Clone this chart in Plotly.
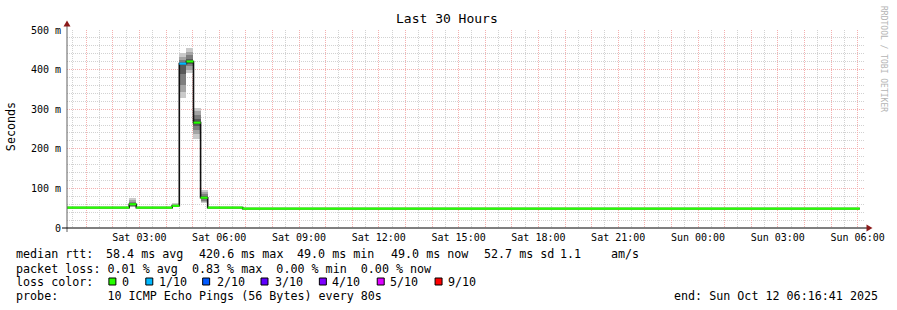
import plotly.graph_objects as go
import pandas as pd

# ------------------------------------------------------------------ data
seg_start = ["2025-10-11 00:16:41", "2025-10-11 02:37", "2025-10-11 02:53",
             "2025-10-11 04:14", "2025-10-11 04:30", "2025-10-11 04:46",
             "2025-10-11 05:02", "2025-10-11 05:18", "2025-10-11 05:34",
             "2025-10-11 06:53"]
seg_end = seg_start[1:] + ["2025-10-12 06:05"]
median_ms = [51.5, 60.0, 51.5, 56.0, 415.0, 420.5, 266.0, 76.5, 51.5, 49.0]
loss_count = [0, 0, 0, 0, 1, 0, 0, 0, 0, 0]

smoke_start = ["2025-10-11 02:37", "2025-10-11 04:14", "2025-10-11 04:30",
               "2025-10-11 04:46", "2025-10-11 05:02", "2025-10-11 05:18"]
smoke_pings = [
    [52, 54, 56, 58, 59, 61, 63, 66, 71, 76],
    [53, 54, 55, 55.5, 56, 56.5, 57, 58, 60, 62],
    [328, 343, 362, 390, 404, 414, 424, 433, 441],
    [391, 400, 408, 415, 419, 421, 428, 436, 445, 455],
    [225, 238, 248, 257, 264, 268, 276, 285, 295, 303],
    [63, 66, 69, 72, 75, 78, 81, 85, 90, 96],
]
step_minutes = 16

loss_labels = ["0", "1/10", "2/10", "3/10", "4/10", "5/10", "9/10"]
loss_levels = [0, 1, 2, 3, 4, 5, 9]
loss_colors = ["#26ff00", "#00b8ff", "#0059ff", "#5e00ff", "#7e00ff", "#dd00ff", "#ff0000"]

tick_labels = {
    "2025-10-11 03:00": "Sat 03:00", "2025-10-11 06:00": "Sat 06:00",
    "2025-10-11 09:00": "Sat 09:00", "2025-10-11 12:00": "Sat 12:00",
    "2025-10-11 15:00": "Sat 15:00", "2025-10-11 18:00": "Sat 18:00",
    "2025-10-11 21:00": "Sat 21:00", "2025-10-12 00:00": "Sun 00:00",
    "2025-10-12 03:00": "Sun 03:00", "2025-10-12 06:00": "Sun 06:00",
}
y_tickvals = [0, 100, 200, 300, 400, 500]
y_ticktext = ["0", "100 m", "200 m", "300 m", "400 m", "500 m"]

stats_rtt = [("median rtt:", 16), ("58.4 ms avg", 107), ("420.6 ms max", 199.5),
             ("49.0 ms min", 298), ("49.0 ms now", 392.5), ("52.7 ms sd", 486),
             ("1.1", 562), ("am/s", 612.5)]
stats_loss = "packet loss: 0.01 % avg  0.83 % max  0.00 % min  0.00 % now"
probe_text = "probe:       10 ICMP Echo Pings (56 Bytes) every 80s"
end_text = "end: Sun Oct 12 06:16:41 2025"

t_begin = "2025-10-11 00:16:41"
t_end = "2025-10-12 06:16:41"

# ------------------------------------------------------------------ geometry helpers
L, R, T, B = 67, 30, 30, 82
W, H = 897, 310
PW, PH = W - L - R, H - T - B


def px(x):
    return (x - L) / PW


def py(y):
    return (H - B - y) / PH


MONO = "DejaVu Sans Mono"
fig = go.Figure()

# ------------------------------------------------------------------ smoke
shades = ["#cacaca", "#a4a4a4", "#7e7e7e", "#585858", "#323232"]
step_ms = step_minutes * 60 * 1000
for band in range(5):
    xs, bases, hs = [], [], []
    for st, p in zip(smoke_start, smoke_pings):
        n = len(p)
        if band < n // 2:
            xs.append(pd.Timestamp(st) + pd.Timedelta(minutes=step_minutes / 2))
            bases.append(p[band])
            hs.append(p[n - 1 - band] - p[band])
    fig.add_trace(go.Bar(x=xs, y=hs, base=bases, width=[step_ms] * len(xs),
                         marker=dict(color=shades[band], line=dict(width=0)),
                         hoverinfo="skip"))

# ------------------------------------------------------------------ median line (black step)
lx, ly = [], []
for s, e, m in zip(seg_start, seg_end, median_ms):
    lx += [s, e]
    ly += [m, m]
fig.add_trace(go.Scatter(x=lx, y=ly, mode="lines",
                         line=dict(color="#111111", width=1.6), hoverinfo="skip"))

# coloured median by loss
for lev, col in zip(loss_levels, loss_colors):
    cx, cy = [], []
    for s, e, m, lc in zip(seg_start, seg_end, median_ms, loss_count):
        if lc == lev:
            cx += [s, e, None]
            cy += [m, m, None]
    if cx:
        fig.add_trace(go.Scatter(x=cx, y=cy, mode="lines", connectgaps=False,
                                 line=dict(color=col, width=2.2), hoverinfo="skip"))

# ------------------------------------------------------------------ axes
hour_ticks = pd.date_range("2025-10-11 01:00", "2025-10-12 06:00", freq="1h")
tickvals = [t.strftime("%Y-%m-%d %H:%M") for t in hour_ticks]
ticktext = [tick_labels.get(t, "") for t in tickvals]

PINK = "#f4b0b0"
GRAY = "#d2d2d2"

fig.update_xaxes(type="date", range=[t_begin, t_end], tickmode="array",
                 tickvals=tickvals, ticktext=ticktext, showgrid=True,
                 gridcolor=PINK, griddash="1px,1px", gridwidth=1,
                 zeroline=False, showline=False, ticks="",
                 ticklabelstandoff=2,
                 tickfont=dict(family=MONO, size=10, color="black"),
                 minor=dict(tickmode="linear", tick0="2025-10-11 00:30",
                            dtick=1800000, showgrid=True, gridcolor=GRAY,
                            griddash="1px,1px", gridwidth=1))
fig.update_yaxes(range=[0, 500], tickmode="array", tickvals=y_tickvals,
                 ticktext=y_ticktext, showgrid=True, gridcolor=PINK,
                 griddash="1px,1px", gridwidth=1, zeroline=False,
                 showline=False, ticks="", ticklabelstandoff=5,
                 tickfont=dict(family=MONO, size=10, color="black"),
                 minor=dict(tickmode="linear", tick0=0, dtick=20, showgrid=True,
                            gridcolor=GRAY, griddash="1px,1px", gridwidth=1))

shapes = []
# y axis line
shapes.append(dict(type="line", xref="paper", yref="paper", x0=px(67), x1=px(67),
                   y0=py(232), y1=py(25), line=dict(color="#606060", width=1)))
# x axis line
shapes.append(dict(type="line", xref="paper", yref="paper", x0=px(62), x1=px(869),
                   y0=py(228), y1=py(228), line=dict(color="black", width=1)))
# arrows
ARROW = "#8b1a1a"
shapes.append(dict(type="path", xref="paper", yref="paper",
                   path=f"M {px(63.5)} {py(26.5)} L {px(70.5)} {py(26.5)} L {px(67)} {py(20.5)} Z",
                   fillcolor=ARROW, line=dict(width=0)))
shapes.append(dict(type="path", xref="paper", yref="paper",
                   path=f"M {px(868.5)} {py(224.5)} L {px(868.5)} {py(231.5)} L {px(874.5)} {py(228)} Z",
                   fillcolor=ARROW, line=dict(width=0)))

# legend boxes
box_x = [109, 146, 203, 261.5, 320, 378, 436]
for bx, col in zip(box_x, loss_colors):
    shapes.append(dict(type="rect", xref="paper", yref="paper",
                       x0=px(bx), x1=px(bx + 7), y0=py(285), y1=py(278),
                       fillcolor=col, line=dict(color="black", width=1)))

fig.update_layout(shapes=shapes)

# ------------------------------------------------------------------ texts
ann = []


def text(s, x, y, size=11.7, xanchor="left", color="black", angle=0):
    ann.append(dict(text=s, x=px(x), y=py(y), xref="paper", yref="paper",
                    xanchor=xanchor, yanchor="middle", showarrow=False,
                    borderpad=0, borderwidth=0, textangle=angle,
                    font=dict(family=MONO, size=size, color=color)))


text("Last 30 Hours", 447.5, 19, size=13, xanchor="center")
text("Seconds", 11, 127, size=11.7, xanchor="center", angle=-90)
text("RRDTOOL / TOBI OETIKER", 886, 59, size=8, xanchor="center",
     color="#b4b4b4", angle=90)

for s, x in stats_rtt:
    text(s, x - 0.5, 254)
text(stats_loss, 15.5, 268.5)
text("loss color:", 15.5, 282)
label_x = [123, 159.5, 218, 276, 333, 391.5, 449.5]
for lab, x in zip(loss_labels, label_x):
    text(lab, x - 0.5, 282)
text(probe_text, 15.5, 296)
text(end_text, 880.5, 296, xanchor="right")

fig.update_layout(annotations=ann, width=W, height=H,
                  margin=dict(l=L, r=R, t=T, b=B, pad=0),
                  paper_bgcolor="white", plot_bgcolor="white",
                  showlegend=False, barmode="overlay", bargap=0)

fig.write_html("out.html")
